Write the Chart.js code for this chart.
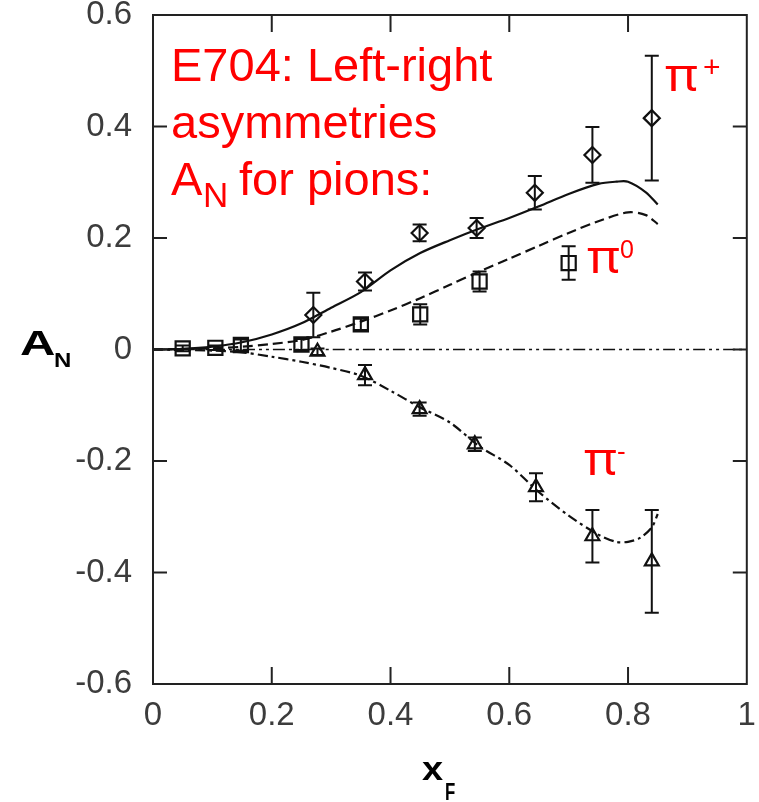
<!DOCTYPE html>
<html>
<head>
<meta charset="utf-8">
<script src="https://cdn.jsdelivr.net/npm/chart.js@4.4.0/dist/chart.umd.min.js"></script>
<style>
  html, body { margin: 0; padding: 0; background: #fff; }
  canvas { display: block; }
</style>
</head>
<body>
<canvas id="asym" width="759" height="802"></canvas>
<script>
// axis ticks
const xTicks = [0, 0.2, 0.4, 0.6, 0.8, 1];
const yTicks = [-0.6, -0.4, -0.2, 0, 0.2, 0.4, 0.6];

// measured asymmetries with errors
const piPlusX = [0.27, 0.357, 0.449, 0.545, 0.643, 0.74, 0.84];
const piPlusA = [0.062, 0.122, 0.209, 0.218, 0.281, 0.349, 0.415];
const piPlusErr = [0.04, 0.016, 0.015, 0.018, 0.03, 0.05, 0.112];

const piZeroX = [0.05, 0.105, 0.148, 0.25, 0.35, 0.45, 0.55, 0.7];
const piZeroA = [0.002, 0.003, 0.008, 0.009, 0.045, 0.063, 0.122, 0.155];
const piZeroErr = [0.005, 0.004, 0.01, 0.01, 0.01, 0.018, 0.018, 0.03];

const piMinusX = [0.277, 0.357, 0.449, 0.542, 0.645, 0.74, 0.84];
const piMinusA = [-0.004, -0.046, -0.107, -0.17, -0.247, -0.335, -0.38];
const piMinusErr = [0.006, 0.018, 0.012, 0.012, 0.025, 0.047, 0.092];

// model curves
const plusCurveX = [0, 0.05, 0.1, 0.15, 0.2, 0.25, 0.3, 0.35, 0.4, 0.45, 0.5, 0.55, 0.6, 0.65, 0.7, 0.75, 0.78, 0.8, 0.83, 0.85];
const plusCurveA = [0, 0.001, 0.005, 0.013, 0.027, 0.047, 0.075, 0.103, 0.142, 0.173, 0.196, 0.217, 0.236, 0.257, 0.279, 0.297, 0.301, 0.301, 0.282, 0.26];

const zeroCurveX = [0, 0.1, 0.15, 0.2, 0.25, 0.3, 0.35, 0.4, 0.45, 0.5, 0.55, 0.6, 0.65, 0.7, 0.75, 0.8, 0.83, 0.85];
const zeroCurveA = [0, 0.002, 0.005, 0.01, 0.017, 0.032, 0.05, 0.07, 0.092, 0.116, 0.14, 0.163, 0.186, 0.209, 0.23, 0.246, 0.241, 0.225];

const minusCurveX = [0, 0.1, 0.15, 0.2, 0.25, 0.3, 0.35, 0.4, 0.45, 0.5, 0.55, 0.6, 0.65, 0.7, 0.75, 0.78, 0.8, 0.82, 0.84, 0.85];
const minusCurveA = [0, -0.002, -0.005, -0.013, -0.022, -0.033, -0.047, -0.074, -0.104, -0.131, -0.174, -0.207, -0.256, -0.298, -0.332, -0.345, -0.345, -0.338, -0.319, -0.295];

const baseLineX = [0, 1];
const baseLineA = [0, 0];

const FONT = "'Liberation Sans', Arial, sans-serif";
const PI_FONT = "'Noto Sans', 'DejaVu Sans', sans-serif";

function pts(xs, ys) {
  return xs.map((x, i) => ({ x: x, y: ys[i] }));
}

function curve(xs, ys, dash, width) {
  return {
    type: 'line',
    data: pts(xs, ys),
    borderColor: '#111',
    borderWidth: width,
    borderDash: dash,
    pointRadius: 0,
    tension: 0.3,
    fill: false
  };
}

function markers(xs, ys, errs, style, r) {
  return {
    type: 'scatter',
    data: pts(xs, ys),
    errors: errs,
    pointStyle: style,
    pointRadius: r,
    pointBorderWidth: 2.2,
    pointBorderColor: '#111',
    pointBackgroundColor: 'rgba(0,0,0,0)',
    showLine: false
  };
}

// frame with inward tick marks on all four sides
const frame = {
  id: 'frame',
  afterDatasetsDraw(chart) {
    const { ctx, chartArea: a, scales } = chart;
    ctx.save();
    ctx.strokeStyle = '#222';
    ctx.lineWidth = 2;
    ctx.strokeRect(a.left, a.top, a.right - a.left, a.bottom - a.top);
    ctx.beginPath();
    xTicks.slice(1, -1).forEach(v => {
      const px = scales.x.getPixelForValue(v);
      ctx.moveTo(px, a.bottom); ctx.lineTo(px, a.bottom - 17);
      ctx.moveTo(px, a.top); ctx.lineTo(px, a.top + 17);
    });
    yTicks.slice(1, -1).forEach(v => {
      const py = scales.y.getPixelForValue(v);
      ctx.moveTo(a.left, py); ctx.lineTo(a.left + 14, py);
      ctx.moveTo(a.right, py); ctx.lineTo(a.right - 14, py);
    });
    ctx.stroke();
    ctx.restore();
  }
};

const errorBars = {
  id: 'errorBars',
  afterDatasetsDraw(chart) {
    const { ctx, scales } = chart;
    ctx.save();
    ctx.strokeStyle = '#111';
    ctx.lineWidth = 2;
    chart.data.datasets.forEach(ds => {
      if (!ds.errors) return;
      ds.data.forEach((p, i) => {
        const px = scales.x.getPixelForValue(p.x);
        const top = scales.y.getPixelForValue(p.y + ds.errors[i]);
        const bot = scales.y.getPixelForValue(p.y - ds.errors[i]);
        ctx.beginPath();
        ctx.moveTo(px, top); ctx.lineTo(px, bot);
        ctx.moveTo(px - 7, top); ctx.lineTo(px + 7, top);
        ctx.moveTo(px - 7, bot); ctx.lineTo(px + 7, bot);
        ctx.stroke();
      });
    });
    ctx.restore();
  }
};

function txt(ctx, s, x, y, font, sx) {
  ctx.save();
  ctx.font = font;
  ctx.translate(x, y);
  ctx.scale(sx || 1, 1);
  ctx.fillText(s, 0, 0);
  ctx.restore();
}

const labels = {
  id: 'labels',
  afterDraw(chart) {
    const ctx = chart.ctx;
    ctx.save();
    ctx.textBaseline = 'alphabetic';
    ctx.textAlign = 'left';

    // red annotation
    ctx.fillStyle = '#ff0000';
    const big = '47px ' + FONT;
    txt(ctx, 'E704: Left-right', 171, 81, big);
    txt(ctx, 'asymmetries', 171, 138, big);
    txt(ctx, 'A', 171, 195, big);
    txt(ctx, 'N', 203, 207, '35px ' + FONT);
    txt(ctx, ' for pions:', 226, 195, big);

    const piF = '45px ' + PI_FONT;
    txt(ctx, 'π', 665, 91, piF, 1.12);
    txt(ctx, '+', 703, 77, '30px ' + FONT);
    txt(ctx, 'π', 587, 273, piF, 1.12);
    txt(ctx, '0', 620, 258, '25px ' + FONT);
    txt(ctx, 'π', 584, 475, piF, 1.12);
    txt(ctx, '-', 617, 460, '26px ' + FONT);

    // axis titles
    ctx.fillStyle = '#000';
    txt(ctx, 'A', 20, 355, 'bold 35px ' + FONT, 1.4);
    txt(ctx, 'N', 54, 367, 'bold 20px ' + FONT, 1.2);
    txt(ctx, 'x', 422, 780, 'bold 33px ' + FONT, 1.15);
    txt(ctx, 'F', 445, 800, 'bold 24px ' + FONT, 0.7);
    ctx.restore();
  }
};

const tickFont = { family: FONT, size: 33 };

new Chart(document.getElementById('asym').getContext('2d'), {
  type: 'scatter',
  data: {
    datasets: [
      curve(baseLineX, baseLineA, [12, 4, 3, 4, 3, 4], 1.6),
      curve(plusCurveX, plusCurveA, [], 2.2),
      curve(zeroCurveX, zeroCurveA, [10, 5], 2.2),
      curve(minusCurveX, minusCurveA, [10, 4, 3, 4], 2.2),
      markers(piPlusX, piPlusA, piPlusErr, 'rectRot', 8),
      markers(piZeroX, piZeroA, piZeroErr, 'rect', 10),
      markers(piMinusX, piMinusA, piMinusErr, 'triangle', 8)
    ]
  },
  options: {
    responsive: false,
    animation: false,
    layout: { padding: { top: 15, right: 8, left: 0, bottom: 0 } },
    plugins: {
      legend: { display: false },
      tooltip: { enabled: false }
    },
    scales: {
      x: {
        type: 'linear',
        min: 0,
        max: 1,
        afterBuildTicks: s => { s.ticks = xTicks.map(v => ({ value: v })); },
        afterFit: s => { s.height = 118; s.paddingLeft = 0; s.paddingRight = 0; },
        grid: { display: false, drawTicks: false },
        border: { display: false },
        ticks: {
          font: tickFont,
          color: '#3c3c3c',
          padding: 12,
          maxRotation: 0,
          callback: v => String(+v.toFixed(1))
        }
      },
      y: {
        type: 'linear',
        min: -0.6,
        max: 0.6,
        afterBuildTicks: s => { s.ticks = yTicks.map(v => ({ value: v })); },
        afterFit: s => { s.width = 153; s.paddingTop = 0; s.paddingBottom = 0; },
        grid: { display: false, drawTicks: false },
        border: { display: false },
        ticks: {
          font: tickFont,
          color: '#3c3c3c',
          padding: 21,
          callback: v => String(+v.toFixed(1))
        }
      }
    }
  },
  plugins: [frame, errorBars, labels]
});
</script>
</body>
</html>
